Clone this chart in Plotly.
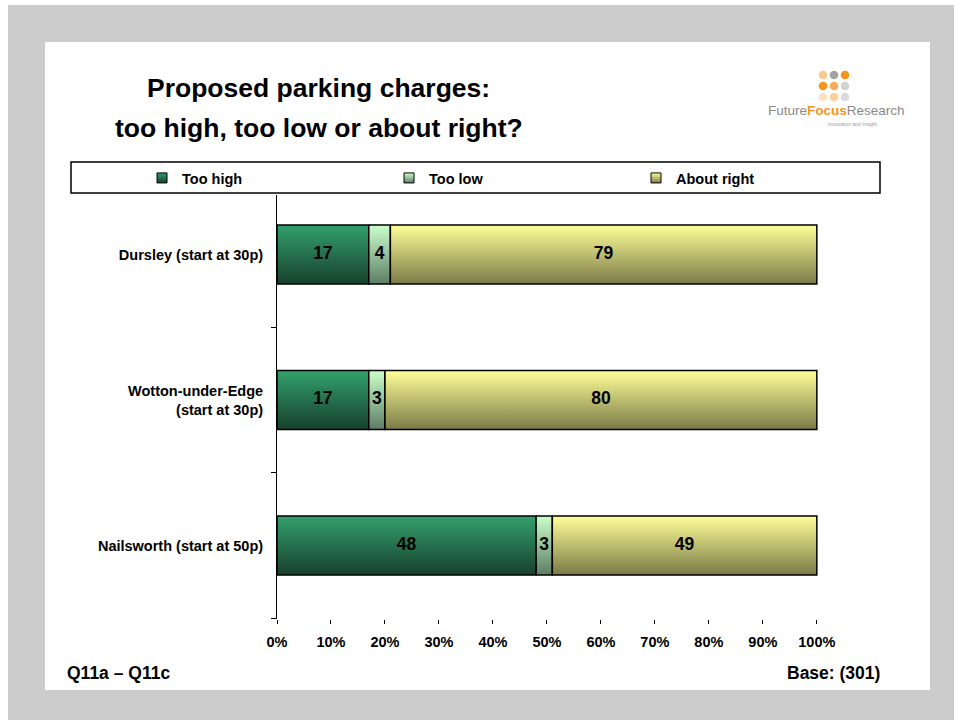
import plotly.graph_objects as go

# ---- data -------------------------------------------------------------
categories = [
    "Dursley (start at 30p)",
    "Wotton-under-Edge<br>(start at 30p)",
    "Nailsworth (start at 50p)",
]
series_names = ["Too high", "Too low", "About right"]
too_high = [17, 17, 48]
too_low = [4, 3, 3]
about_right = [79, 80, 49]
x_tick_values = [0, 10, 20, 30, 40, 50, 60, 70, 80, 90, 100]
x_tick_labels = ["0%", "10%", "20%", "30%", "40%", "50%", "60%", "70%", "80%", "90%", "100%"]

title_lines = ["Proposed parking charges:", "too high, too low or about right?"]
footer_left = "Q11a \u2013 Q11c"
footer_right = "Base: (301)"

# ---- style ------------------------------------------------------------
FONT = "Arial, 'Liberation Sans', sans-serif"
# (top colour, bottom colour) of the vertical gradient for each series
gradients = [
    ("#33a06c", "#17402c"),
    ("#ccffcc", "#5c7d66"),
    ("#ffff99", "#7a7a48"),
]
BAR_HALF = 0.203

W, H = 954, 720
L, R_EDGE, T, B_EDGE = 277, 819, 195, 619  # plot area in pixels


def px(x):
    return (x - L) / (R_EDGE - L)


def py(y):
    return (B_EDGE - y) / (B_EDGE - T)


fig = go.Figure()

series_values = [too_high, too_low, about_right]
positions = list(range(len(categories)))
left_edges = [0.0] * len(categories)

for s, (name, values) in enumerate(zip(series_names, series_values)):
    top_c, bot_c = gradients[s]
    mids = []
    for i, v in enumerate(values):
        x0 = left_edges[i]
        x1 = x0 + v
        y_top = positions[i] - BAR_HALF
        y_bot = positions[i] + BAR_HALF
        fig.add_trace(go.Scatter(
            x=[x0, x1, x1, x0, x0],
            y=[y_top, y_top, y_bot, y_bot, y_top],
            mode="lines",
            fill="toself",
            fillgradient=dict(
                type="vertical",
                colorscale=[[0, bot_c], [1, top_c]],
                start=y_bot,
                stop=y_top,
            ),
            line=dict(color="black", width=1.5),
            legendgroup=name,
            showlegend=False,
            hoverinfo="skip",
        ))
        mids.append(x0 + v / 2)
        left_edges[i] = x1
    # value labels centred in each segment
    fig.add_trace(go.Scatter(
        x=mids,
        y=positions,
        mode="text",
        text=[str(v) for v in values],
        textfont=dict(family=FONT, size=17.5, color="black", weight="bold"),
        showlegend=False,
        hoverinfo="skip",
    ))
    # legend swatch
    fig.add_trace(go.Scatter(
        x=[None], y=[None],
        mode="markers",
        name=name,
        legendgroup=name,
        marker=dict(
            symbol="square", size=10, color=top_c,
            line=dict(color="black", width=1),
            gradient=dict(type="vertical", color=bot_c),
        ),
    ))

# ---- background frame and legend box ------------------------------------
shapes = [
    dict(type="rect", xref="paper", yref="paper",
         x0=px(8), x1=px(954), y0=py(720), y1=py(5),
         fillcolor="#cccccc", line=dict(width=0), layer="below"),
    dict(type="rect", xref="paper", yref="paper",
         x0=px(45), x1=px(930), y0=py(690), y1=py(42),
         fillcolor="white", line=dict(width=0), layer="below"),
    dict(type="rect", xref="paper", yref="paper",
         x0=px(71), x1=px(880), y0=py(193), y1=py(162),
         fillcolor="white", line=dict(color="black", width=1.5), layer="below"),
]

# logo dots
dot_rows = [
    [(823, 75, "#f9c890"), (834, 75, "#a3a3a3"), (845, 75, "#f7941d")],
    [(823, 86, "#f7941d"), (834, 86, "#f9ad5a"), (845, 86, "#d2d2d2")],
    [(823, 97, "#fde2c2"), (834, 97, "#fbcf9e"), (845, 97, "#dadada")],
]
for row in dot_rows:
    for cx, cy, col in row:
        shapes.append(dict(type="circle", xref="paper", yref="paper",
                           x0=px(cx - 4.3), x1=px(cx + 4.3),
                           y0=py(cy + 4.3), y1=py(cy - 4.3),
                           fillcolor=col, line=dict(width=0)))

annotations = [
    dict(text="<b>" + title_lines[0] + "</b>", x=px(318), y=py(88),
         font=dict(family=FONT, size=26.5, color="black")),
    dict(text="<b>" + title_lines[1] + "</b>", x=px(319), y=py(128),
         font=dict(family=FONT, size=26.5, color="black")),
    dict(text="<b>" + footer_left + "</b>", x=px(65), y=py(673), xanchor="left",
         font=dict(family=FONT, size=17.5, color="black")),
    dict(text="<b>" + footer_right + "</b>", x=px(882), y=py(673), xanchor="right",
         font=dict(family=FONT, size=17.5, color="black")),
    dict(text="Future<span style='color:#f7941d'><b>Focus</b></span>Research",
         x=px(836), y=py(111), font=dict(family=FONT, size=13.5, color="#8a8a8a")),
    dict(text="Innovation and Insight", x=px(880), y=py(124), xanchor="right",
         font=dict(family=FONT, size=5, color="#9a9a9a")),
]
for a in annotations:
    a.update(xref="paper", yref="paper", showarrow=False)
    a.setdefault("xanchor", "center")
    a.setdefault("yanchor", "middle")

fig.update_layout(
    width=W, height=H,
    margin=dict(l=L, r=W - R_EDGE, t=T, b=H - B_EDGE, pad=0),
    paper_bgcolor="white",
    plot_bgcolor="rgba(0,0,0,0)",
    font=dict(family=FONT, color="black"),
    shapes=shapes,
    annotations=annotations,
    showlegend=True,
    legend=dict(
        orientation="h",
        x=px(142), y=py(178), xanchor="left", yanchor="middle",
        entrywidth=202, entrywidthmode="pixels",
        bgcolor="rgba(0,0,0,0)", borderwidth=0,
        font=dict(family=FONT, size=14.5, color="black", weight="bold"),
        itemwidth=30,
        traceorder="normal",
    ),
    xaxis=dict(
        range=[0, 100.4],
        tickmode="array", tickvals=x_tick_values, ticktext=x_tick_labels,
        ticks="outside", ticklen=4, tickcolor="black", tickwidth=1,
        showline=False, showgrid=False, zeroline=False,
        ticklabelstandoff=6,
        tickfont=dict(family=FONT, size=14.5, color="black", weight="bold"),
        fixedrange=True,
    ),
    yaxis=dict(
        range=[2.505, -0.409],
        tickmode="array", tickvals=positions, ticktext=categories,
        ticks="", showline=True, linecolor="black", linewidth=1,
        showgrid=False, zeroline=False,
        minor=dict(tickmode="array", tickvals=[0.5, 1.5, 2.5], ticks="outside",
                   ticklen=5, tickcolor="black", showgrid=False),
        ticklabelstandoff=10,
        tickfont=dict(family=FONT, size=14.5, color="black", weight="bold"),
        fixedrange=True,
    ),
)

fig.write_html("out.html")
